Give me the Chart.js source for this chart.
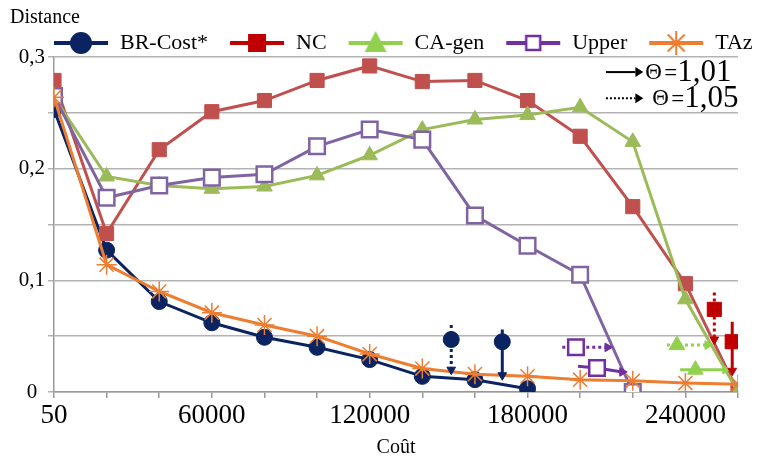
<!DOCTYPE html>
<html>
<head>
<meta charset="utf-8">
<script src="https://cdn.jsdelivr.net/npm/chart.js@4"></script>
<style>
  body { margin: 0; background: #fff; }
  #wrap { width: 766px; height: 460px; }
</style>
</head>
<body>
<div id="wrap"><canvas id="chart" width="766" height="460"></canvas></div>
<script>
// x categories (Coût) and which ones get a label
const categories = ['50', '20000', '40000', '60000', '80000', '100000', '120000',
    '140000', '160000', '180000', '200000', '220000', '240000', '260000'];
const labelEvery = 3;

// Distance values, one per category (series stop early where the curve ends)
const brCost = [0.253, 0.127, 0.081, 0.062, 0.049, 0.040, 0.029, 0.014, 0.011, 0.003];
const nc = [0.279, 0.142, 0.217, 0.251, 0.261, 0.279, 0.292, 0.278, 0.279, 0.261, 0.229, 0.166, 0.097, 0.0];
const caGen = [0.264, 0.193, 0.185, 0.182, 0.184, 0.194, 0.212, 0.235, 0.244, 0.248, 0.255, 0.224, 0.083, 0.0];
const upper = [0.265, 0.174, 0.185, 0.192, 0.195, 0.220, 0.235, 0.226, 0.158, 0.131, 0.105, 0.0];
const taz = [0.264, 0.114, 0.090, 0.071, 0.060, 0.050, 0.034, 0.021, 0.016, 0.014, 0.011, 0.010, 0.008, 0.007];

// theta arrows: [start, marker, arrow tip] as [x index, distance]
const brDotted = [[7.55, 0.060], [7.55, 0.047], [7.55, 0.020]];
const brSolid = [[8.52, 0.056], [8.52, 0.045], [8.52, 0.015]];
const ncDotted = [[12.55, 0.089], [12.55, 0.074], [12.55, 0.047]];
const ncSolid = [[12.89, 0.063], [12.89, 0.045], [12.89, 0.019]];
const upperDotted = [[9.66, 0.040], [9.92, 0.040], [10.52, 0.040]];
const upperSolid = [[9.96, 0.023], [10.32, 0.0215], [10.80, 0.018]];
const caDotted = [[11.65, 0.042], [11.84, 0.042], [12.42, 0.042]];
const caSolid = [[11.90, 0.020], [12.19, 0.020], [12.76, 0.020]];

const SERIF = 'Liberation Serif';
const LEGEND_PAD = 21;

const toPoints = arr => arr.map((v, i) => ({ x: i, y: v }));
const toXY = arr => arr.map(p => ({ x: p[0], y: p[1] }));

// legend symbol: line with the marker in the middle
function makeSymbol(color, style) {
    const c = document.createElement('canvas');
    c.width = 56;
    c.height = 26;
    const g = c.getContext('2d');
    g.strokeStyle = color;
    g.lineWidth = 4;
    g.beginPath();
    g.moveTo(1, 13);
    g.lineTo(55, 13);
    g.stroke();
    g.fillStyle = color;
    if (style === 'circle') {
        g.beginPath();
        g.arc(28, 13, 11, 0, Math.PI * 2);
        g.fill();
    } else if (style === 'rect') {
        g.fillRect(19, 4, 18, 18);
    } else if (style === 'triangle') {
        g.beginPath();
        g.moveTo(28, 1);
        g.lineTo(39, 22);
        g.lineTo(17, 22);
        g.closePath();
        g.fill();
    } else if (style === 'open') {
        g.fillStyle = '#fff';
        g.fillRect(21, 6, 14, 14);
        g.lineWidth = 2.5;
        g.strokeRect(21, 6, 14, 14);
    } else if (style === 'star') {
        g.lineWidth = 2;
        g.beginPath();
        for (let k = 0; k < 4; k++) {
            const a = k * Math.PI / 4;
            g.moveTo(28 - 12 * Math.cos(a), 13 - 12 * Math.sin(a));
            g.lineTo(28 + 12 * Math.cos(a), 13 + 12 * Math.sin(a));
        }
        g.stroke();
    }
    return c;
}

const legendItems = [
    { text: 'BR-Cost*', symbol: makeSymbol('#0b2361', 'circle') },
    { text: 'NC', symbol: makeSymbol('#c00000', 'rect') },
    { text: 'CA-gen', symbol: makeSymbol('#92d050', 'triangle') },
    { text: 'Upper', symbol: makeSymbol('#7030a0', 'open') },
    { text: 'TAz', symbol: makeSymbol('#ed7d31', 'star') }
];

function series(label, data, color, style, radius, extra) {
    return Object.assign({
        label: label,
        data: data,
        borderColor: color,
        backgroundColor: color,
        borderWidth: 3,
        pointStyle: style,
        pointRadius: radius,
        pointBorderColor: color,
        pointBackgroundColor: color,
        pointBorderWidth: 1,
        tension: 0
    }, extra || {});
}

function thetaArrow(data, color, style, radius, dotted, dir, fill) {
    return {
        label: '',
        data: toXY(data),
        borderColor: color,
        borderWidth: 3,
        borderDash: dotted ? [3, 3] : [],
        pointStyle: [style, style, 'triangle'],
        pointRadius: [0, radius, 5],
        pointRotation: [0, 0, dir === 'down' ? 180 : 90],
        pointBackgroundColor: [color, fill || color, color],
        pointBorderColor: color,
        pointBorderWidth: [1, fill ? 2.5 : 1, 1],
        tension: 0,
        order: 0
    };
}

// legend sits a bit higher than its layout box, like the original
const legendPlace = {
    id: 'legendPlace',
    afterLayout(chart) {
        const lg = chart.legend;
        lg.top = 11;
        lg.left = 53 - LEGEND_PAD;
        lg.right = 900;
    }
};

// key for the two theta values, top right
const thetaKey = {
    id: 'thetaKey',
    afterDraw(chart) {
        const { ctx, scales } = chart;
        const x = scales.x, y = scales.y;
        const rows = [[0.2865, false, '1,01', 0], [0.263, true, '1,05', 7]];
        ctx.save();
        rows.forEach(r => {
            const py = y.getPixelForValue(r[0]);
            const x0 = x.getPixelForValue(10.49);
            const x1 = x.getPixelForValue(11.05);
            const x2 = x.getPixelForValue(11.2);
            ctx.strokeStyle = '#000';
            ctx.fillStyle = '#000';
            ctx.lineWidth = 2;
            ctx.setLineDash(r[1] ? [2, 2] : []);
            ctx.beginPath();
            ctx.moveTo(x0, py);
            ctx.lineTo(x1, py);
            ctx.stroke();
            ctx.setLineDash([]);
            ctx.beginPath();
            ctx.moveTo(x2, py);
            ctx.lineTo(x1, py - 5);
            ctx.lineTo(x1, py + 5);
            ctx.closePath();
            ctx.fill();
            ctx.textBaseline = 'middle';
            ctx.font = '23px "' + SERIF + '"';
            ctx.fillText('\u0398', x2 + 2 + r[3], py + 1);
            ctx.fillText('=', x2 + 21 + r[3], py + 2);
            ctx.font = '31px "' + SERIF + '"';
            ctx.fillText(r[2], x2 + 34 + r[3], py + 1);
        });
        ctx.restore();
    }
};

new Chart(document.getElementById('chart'), {
    type: 'line',
    data: {
        datasets: [
            series('BR-Cost*', toPoints(brCost), '#0b2361', 'circle', 8, { order: 5 }),
            series('NC', toPoints(nc), '#c0504d', 'rect', 10, { order: 4 }),
            series('CA-gen', toPoints(caGen), '#9bbb59', 'triangle', 9, { order: 3 }),
            series('Upper', toPoints(upper), '#8064a2', 'rect', 11,
                { order: 2, pointBackgroundColor: '#fff', pointBorderWidth: 2.5 }),
            series('TAz', toPoints(taz), '#ed7d31', 'star', 10, { order: 1, pointBorderWidth: 1.5 }),
            thetaArrow(brDotted, '#0b2361', 'circle', 8, true, 'down'),
            thetaArrow(brSolid, '#0b2361', 'circle', 8, false, 'down'),
            thetaArrow(ncDotted, '#c00000', 'rect', 10, true, 'down'),
            thetaArrow(ncSolid, '#c00000', 'rect', 10, false, 'down'),
            thetaArrow(upperDotted, '#7030a0', 'rect', 11, true, 'right', '#fff'),
            thetaArrow(upperSolid, '#7030a0', 'rect', 11, false, 'right', '#fff'),
            thetaArrow(caDotted, '#92d050', 'triangle', 9, true, 'right'),
            thetaArrow(caSolid, '#92d050', 'triangle', 9, false, 'right')
        ]
    },
    options: {
        responsive: false,
        devicePixelRatio: 1,
        animation: false,
        layout: { padding: { left: 10, right: 0, top: 2, bottom: 0 } },
        plugins: {
            title: {
                display: true,
                text: 'Distance',
                align: 'start',
                color: '#000',
                font: { family: SERIF, size: 20, weight: 'normal' },
                padding: { top: 4, bottom: 0 }
            },
            legend: {
                position: 'top',
                align: 'start',
                maxHeight: 27,
                labels: {
                    usePointStyle: true,
                    pointStyleWidth: 56,
                    boxHeight: 20,
                    padding: LEGEND_PAD,
                    color: '#000',
                    font: { family: SERIF, size: 22 },
                    generateLabels: () => legendItems.map((it, i) => ({
                        text: it.text,
                        pointStyle: it.symbol,
                        datasetIndex: i,
                        hidden: false,
                        fillStyle: 'transparent',
                        strokeStyle: 'transparent',
                        lineWidth: 0,
                        fontColor: '#000'
                    }))
                }
            },
            tooltip: { enabled: false }
        },
        scales: {
            x: {
                type: 'linear',
                min: 0,
                max: categories.length - 1,
                afterFit: s => { s.height = 68; },
                ticks: {
                    stepSize: 1,
                    autoSkip: false,
                    maxRotation: 0,
                    padding: 2,
                    color: '#000',
                    font: { family: SERIF, size: 27 },
                    callback: v => (v % labelEvery === 0 ? categories[v] : '')
                },
                grid: { drawOnChartArea: false, drawTicks: true, tickLength: 6, color: '#999', lineWidth: 1.5 },
                border: { color: '#999', width: 1.5 },
                title: {
                    display: true,
                    text: 'Coût',
                    color: '#000',
                    font: { family: SERIF, size: 20 },
                    padding: { top: 2, bottom: 0 }
                }
            },
            y: {
                min: 0,
                max: 0.3,
                afterFit: s => { s.width = 44; },
                ticks: {
                    stepSize: 0.05,
                    crossAlign: 'center',
                    padding: 3,
                    color: '#000',
                    font: { family: SERIF, size: 21 },
                    callback: v => {
                        const t = Math.round(v * 100);
                        if (t % 10 !== 0) return '';
                        return t === 0 ? '0' : (t / 100).toFixed(1).replace('.', ',');
                    }
                },
                grid: { color: '#b3b3b3', lineWidth: 1.5, tickLength: 6 },
                border: { color: '#999', width: 1.5 }
            },
            // empty strip on the right, keeps the plot narrower than the legend row
            yRight: {
                type: 'linear',
                position: 'right',
                display: true,
                afterFit: s => { s.width = 28; },
                ticks: { display: false },
                grid: { display: false },
                border: { display: false }
            }
        }
    },
    plugins: [legendPlace, thetaKey]
});
</script>
</body>
</html>
